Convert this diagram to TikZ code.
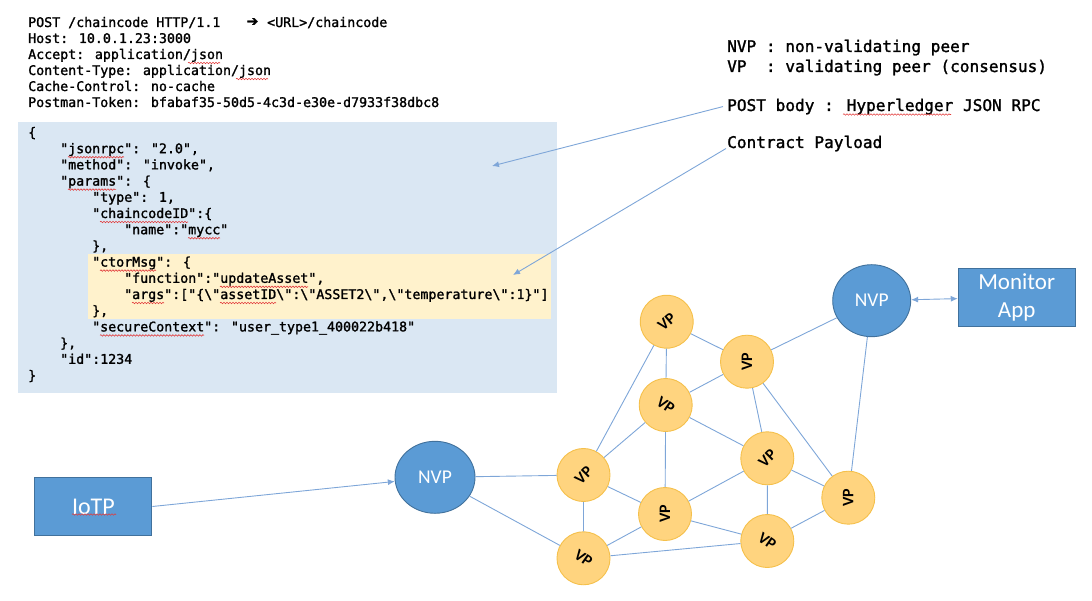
\documentclass[tikz,border=0pt]{standalone}
\usepackage{fontspec}
\setmainfont{Carlito}
\newfontfamily\codefont[FakeBold=1.5]{DejaVu Sans Mono}
\newfontfamily\symfont[FakeBold=1.5]{DejaVu Sans}
\usetikzlibrary{arrows.meta,shapes.geometric,decorations.pathmorphing}

\definecolor{nvpblue}{HTML}{5B9BD5}
\definecolor{nvpedge}{HTML}{41719C}
\definecolor{vpfill}{HTML}{FFD47F}
\definecolor{vpedge}{HTML}{F5C04B}
\definecolor{linkblue}{HTML}{7EA6D8}
\definecolor{jsonbg}{HTML}{DAE7F3}
\definecolor{payloadbg}{HTML}{FFF2CC}
\definecolor{squigred}{HTML}{E23B3B}

% spell-check style underline: columns of the 8pt monospace grid, line baseline
\newcommand\codesquig[3]{\draw[squiggle] ({28+#1*8},{#3+4}) -- ({28+#2*8},{#3+4});}

\begin{document}
\begin{tikzpicture}[x=1pt,y=-1pt,
  code/.style={font=\codefont\fontsize{13.3}{16}\selectfont, inner sep=0, anchor=base west},
  note/.style={font=\codefont\fontsize{16.1}{20}\selectfont, inner sep=0, anchor=base west},
  vp/.style={circle, minimum size=53pt, inner sep=0, fill=vpfill, draw=vpedge,
    line width=0.9pt, font=\bfseries\fontsize{16}{16}\selectfont},
  nvp/.style={ellipse, minimum width=80pt, minimum height=72pt, inner sep=0,
    fill=nvpblue, draw=nvpedge, line width=0.9pt, text=white,
    font=\fontsize{19.5}{19.5}\selectfont},
  appbox/.style={rectangle, fill=nvpblue, draw=nvpedge, line width=0.9pt,
    text=white, inner sep=0, align=center, minimum width=117pt, minimum height=58pt},
  link/.style={draw=linkblue, line width=0.9pt},
  pointer/.style={link, -{Latex[length=7pt,width=6pt]}},
  bipointer/.style={link, {Latex[length=7pt,width=6pt]}-{Latex[length=7pt,width=6pt]}},
  squiggle/.style={draw=squigred, line width=0.6pt, decorate,
    decoration={snake, segment length=3pt, amplitude=0.75pt}}
]
\useasboundingbox (0,0) rectangle (1092,601);

% HTTP request header
\node[code] (h1) at (28,27) {POST /chaincode HTTP/1.1};
\node[inner sep=0, font=\symfont\fontsize{14}{14}\selectfont] (harrow) at (252.5,22) {➔};
\node[code] (h1b) at (267,27) {<URL>/chaincode};
\node[code] (h2) at (28,43) {Host: 10.0.1.23:3000};
\node[code] (h3) at (28,59) {Accept: application/json};
\node[code] (h4) at (28,75) {Content-Type: application/json};
\node[code] (h5) at (28,91) {Cache-Control: no-cache};
\node[code] (h6) at (28,107) {Postman-Token: bfabaf35-50d5-4c3d-e30e-d7933f38dbc8};
\codesquig{20}{24}{59}
\codesquig{26}{30}{75}

% JSON RPC body
\fill[jsonbg] (18,122) rectangle (557,393);
\fill[payloadbg] (88,254) rectangle (551,319);
\node[code] (j0)  at (28,137)    {\{};
\node[code] (j1)  at (60,153.2)  {"jsonrpc": "2.0",};
\node[code] (j2)  at (60,169.4)  {"method": "invoke",};
\node[code] (j3)  at (60,185.6)  {"params": \{};
\node[code] (j4)  at (92,201.8)  {"type": 1,};
\node[code] (j5)  at (92,218)    {"chaincodeID":\{};
\node[code] (j6)  at (124,234.2) {"name":"mycc"};
\node[code] (j7)  at (92,250.4)  {\},};
\node[code] (j8)  at (92,266.6)  {"ctorMsg": \{};
\node[code] (j9)  at (124,282.8) {"function":"updateAsset",};
\node[code] (j10) at (124,299)   {"args":["\{\textbackslash"assetID\textbackslash":\textbackslash"ASSET2\textbackslash",\textbackslash"temperature\textbackslash":1\}"]};
\node[code] (j11) at (92,315.2)  {\},};
\node[code] (j12) at (92,331.4)  {"secureContext": "user\_type1\_400022b418"};
\node[code] (j13) at (60,347.6)  {\},};
\node[code] (j14) at (60,363.8)  {"id":1234};
\node[code] (j15) at (28,380)    {\}};
\codesquig{5}{12}{153.2}
\codesquig{5}{11}{185.6}
\codesquig{9}{20}{218}
\codesquig{20}{24}{234.2}
\codesquig{9}{16}{266.6}
\codesquig{24}{35}{282.8}
\codesquig{13}{17}{299}
\codesquig{24}{31}{299}
\codesquig{9}{22}{331.4}

% legend and annotations
\node[note] (l1) at (727,52) {NVP : non-validating peer};
\node[note] (l2) at (727,72) {VP\ \ : validating peer (consensus)};
\node[note] (pb) at (727,111) {POST body : Hyperledger JSON RPC};
\node[note] (cp) at (727,148) {Contract Payload};
\draw[squiggle] (843,114.5) -- (951,114.5);
\coordinate (bodytip) at (492,166);
\coordinate (payloadtip) at (513,275);
\draw[pointer] ([xshift=-4pt]pb.west) -- (bodytip);
\draw[pointer] ([shift={(-1pt,-5pt)}]cp.west) -- (payloadtip);

% peer network
\node[appbox, font=\fontsize{24}{28}\selectfont] (iotp) at (93.4,506.5) {IoTP};
\draw[squiggle] (72,514.5) -- (116,514.5);
\node[appbox, font=\fontsize{23}{28}\selectfont] (mon) at (1016.7,297.2) {Monitor\\App};

\node[nvp] (nvp1) at (435,477.3) {NVP};
\node[nvp, minimum width=78pt] (nvp2) at (871.7,300.7) {NVP};

\node[vp, rotate=40]  (vp1) at (666.7,321.7) {VP};
\node[vp, rotate=90]  (vp2) at (747,361.7) {VP};
\node[vp, rotate=-35] (vp3) at (665.7,405) {VP};
\node[vp, rotate=45]  (vp4) at (767.3,458.3) {VP};
\node[vp, rotate=45]  (vp5) at (583.5,475) {VP};
\node[vp, rotate=90]  (vp6) at (665,514) {VP};
\node[vp, rotate=90]  (vp7) at (848.3,497.7) {VP};
\node[vp, rotate=-35] (vp8) at (583.5,558.3) {VP};
\node[vp, rotate=-35] (vp9) at (767.3,541) {VP};

\draw[pointer] (iotp.east) -- (nvp1);
\draw[bipointer] (nvp2) -- (mon);
\foreach \a/\b in {nvp1/vp5, nvp1/vp8, nvp2/vp2, nvp2/vp7, vp1/vp2, vp1/vp3,
  vp1/vp5, vp2/vp3, vp2/vp4, vp2/vp7, vp3/vp5, vp3/vp6, vp3/vp4, vp5/vp6,
  vp5/vp8, vp6/vp4, vp6/vp8, vp6/vp9, vp4/vp7, vp4/vp9, vp7/vp9, vp8/vp9}
  \draw[link] (\a) -- (\b);
\end{tikzpicture}
\end{document}
